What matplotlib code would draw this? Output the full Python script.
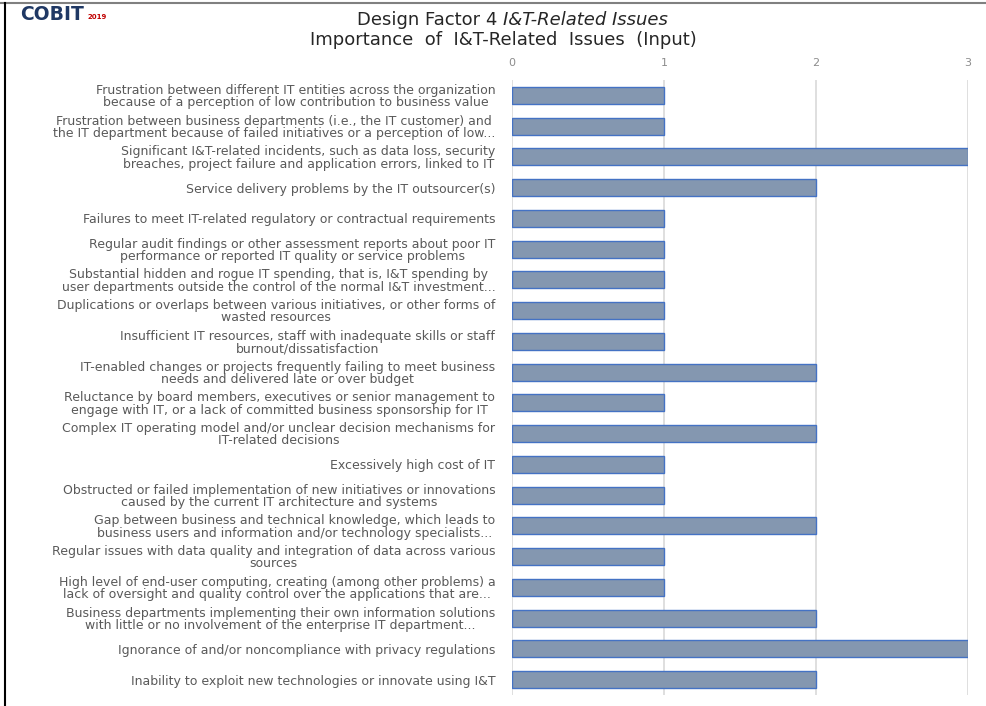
import matplotlib
matplotlib.use("Agg")
import matplotlib.pyplot as plt
from matplotlib.lines import Line2D

categories = [
    "Frustration between different IT entities across the organization\nbecause of a perception of low contribution to business value",
    "Frustration between business departments (i.e., the IT customer) and\nthe IT department because of failed initiatives or a perception of low...",
    "Significant I&T-related incidents, such as data loss, security\nbreaches, project failure and application errors, linked to IT",
    "Service delivery problems by the IT outsourcer(s)",
    "Failures to meet IT-related regulatory or contractual requirements",
    "Regular audit findings or other assessment reports about poor IT\nperformance or reported IT quality or service problems",
    "Substantial hidden and rogue IT spending, that is, I&T spending by\nuser departments outside the control of the normal I&T investment...",
    "Duplications or overlaps between various initiatives, or other forms of\nwasted resources",
    "Insufficient IT resources, staff with inadequate skills or staff\nburnout/dissatisfaction",
    "IT-enabled changes or projects frequently failing to meet business\nneeds and delivered late or over budget",
    "Reluctance by board members, executives or senior management to\nengage with IT, or a lack of committed business sponsorship for IT",
    "Complex IT operating model and/or unclear decision mechanisms for\nIT-related decisions",
    "Excessively high cost of IT",
    "Obstructed or failed implementation of new initiatives or innovations\ncaused by the current IT architecture and systems",
    "Gap between business and technical knowledge, which leads to\nbusiness users and information and/or technology specialists...",
    "Regular issues with data quality and integration of data across various\nsources",
    "High level of end-user computing, creating (among other problems) a\nlack of oversight and quality control over the applications that are...",
    "Business departments implementing their own information solutions\nwith little or no involvement of the enterprise IT department...",
    "Ignorance of and/or noncompliance with privacy regulations",
    "Inability to exploit new technologies or innovate using I&T",
]
values = [1, 1, 3, 2, 1, 1, 1, 1, 1, 2, 1, 2, 1, 1, 2, 1, 1, 2, 3, 2]
x_ticks = [0, 1, 2, 3]

fig = plt.figure(figsize=(9.87, 7.06), dpi=100)
ax = fig.add_axes([512/987, 1-695/706, (968-512)/987, (695-80)/706])

ypos = list(range(len(categories)))
ax.barh(ypos, values, height=0.55, color="#8497B0", edgecolor="#4472C4", linewidth=1.0, zorder=3)
ax.set_ylim(len(categories)-0.5, -0.5)
ax.set_xlim(0, 3)
ax.set_xticks(x_ticks)
ax.set_xticklabels([str(t) for t in x_ticks], color="#8C8C8C", fontsize=8, family="DejaVu Sans")
ax.xaxis.tick_top()
ax.tick_params(axis="x", length=0, pad=9)
ax.tick_params(axis="y", length=0, pad=12)
ax.set_yticks(ypos)
ax.set_yticklabels(categories, fontsize=9.0, color="#595959", family="DejaVu Sans",
                   multialignment="center", linespacing=0.92)
ax.grid(axis="x", color="#D9D9D9", linewidth=1.2, zorder=0)
for s in ax.spines.values():
    s.set_visible(False)

fig.text(0.51, 0.971, "Design Factor 4 ", ha="right", va="center", fontsize=13, color="#262626", family="DejaVu Sans")
fig.text(0.51, 0.971, "I&T-Related Issues", ha="left", va="center", fontsize=13, color="#262626", family="DejaVu Sans", style="italic")
fig.text(0.51, 0.944, "Importance  of  I&T-Related  Issues  (Input)", ha="center", va="center", fontsize=13, color="#262626", family="DejaVu Sans")

fig.text(20/987, 0.979, "COBIT", ha="left", va="center", fontsize=13.5, color="#1F3864", family="DejaVu Sans", weight="bold")
fig.text(88/987, 0.976, "2019", ha="left", va="center", fontsize=5, color="#C00000", family="DejaVu Sans", weight="bold")

fig.add_artist(Line2D([0, 1], [1-3/706, 1-3/706], color="#808080", linewidth=1.5, transform=fig.transFigure))
fig.add_artist(Line2D([5/987, 5/987], [0, 1-3/706], color="black", linewidth=1.5, transform=fig.transFigure))

fig.savefig("out.png", dpi=100)
